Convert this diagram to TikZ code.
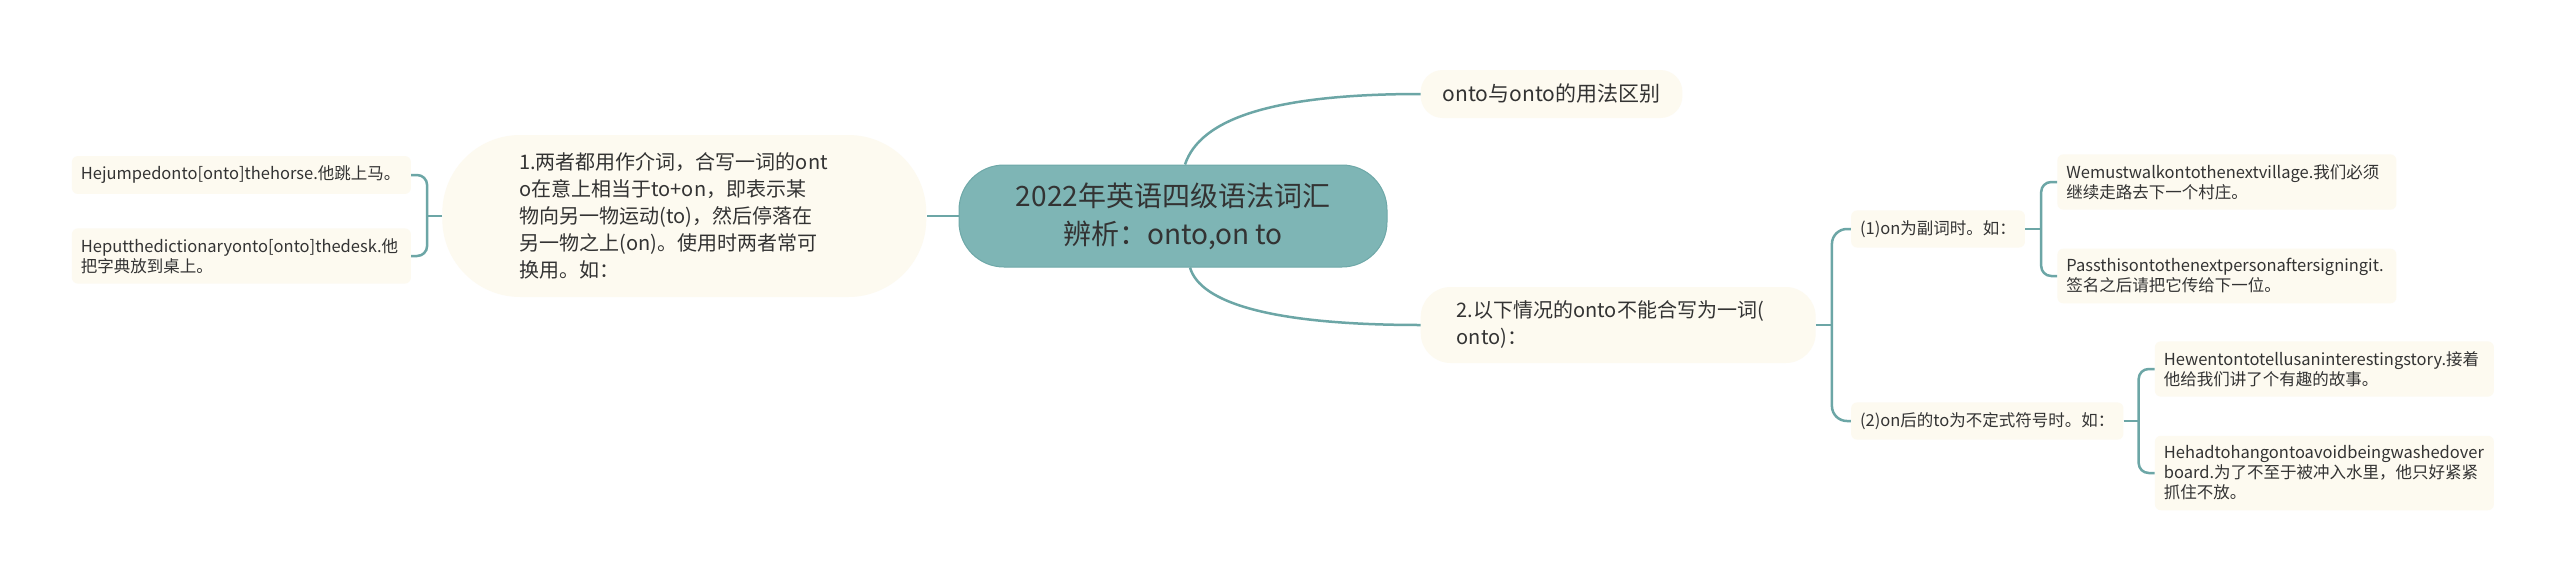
\documentclass[tikz,border=0pt]{standalone}
\usepackage{fontspec}
\setmainfont{Noto Sans CJK SC}
\usepackage{xcolor}
\usetikzlibrary{positioning}
\definecolor{hubteal}{RGB}{126,181,181}
\definecolor{hubline}{RGB}{110,168,168}
\definecolor{linkteal}{RGB}{108,166,166}
\definecolor{cream}{RGB}{253,250,240}
\definecolor{ink}{RGB}{51,51,51}

\begin{document}
\begin{tikzpicture}[x=1pt, y=-1pt,
        hub/.style={rectangle, draw=hubline, line width=1pt, fill=hubteal, rounded corners=45pt, minimum width=428pt, minimum height=102pt, align=center, text=ink, font=\fontsize{28}{38}\selectfont},
        topic/.style={rectangle, fill=cream, text=ink, align=left, font=\fontsize{20}{27}\selectfont},
        sub/.style={rectangle, fill=cream, rounded corners=6pt, text=ink, align=left, inner xsep=9pt, inner ysep=10pt, font=\fontsize{16.5}{20}\selectfont},
        leaf/.style={sub, text width=321pt},
        link/.style={draw=linkteal, line width=2.5pt}]

        \path[fill=white] (0,0) rectangle (2560,581);
        \useasboundingbox (0,0) rectangle (2560,581);

        \node[hub] (root) at (1173,216) {2022年英语四级语法词汇\\辨析：onto,on to};
        \node[topic, rounded corners=78pt, text width=330pt, inner xsep=77pt, minimum height=162pt, left=32pt of root] (b1) {1.两者都用作介词，合写一词的ont\\o在意上相当于to+on，即表示某\\物向另一物运动(to)，然后停落在\\另一物之上(on)。使用时两者常可\\换用。如：};
        \node[topic, rounded corners=22pt, font=\fontsize{21}{27}\selectfont, inner xsep=22pt, minimum height=48pt, right=33pt of root.east, yshift=122pt] (t1) {onto与onto的用法区别};
        \node[topic, rounded corners=30pt, text width=323pt, inner xsep=36pt, minimum height=76pt, right=33pt of root.east, yshift=-109pt] (b2) {2.以下情况的onto不能合写为一词(\\onto)：};

        \node[sub, right=35pt of b2.east, yshift=96pt] (s1) {(1)on为副词时。如：};
        \node[sub, right=35pt of b2.east, yshift=-96pt] (s2) {(2)on后的to为不定式符号时。如：};

        \node[leaf, left=31pt of b1.west, yshift=41pt] (l1) {Hejumpedonto[onto]thehorse.他跳上马。};
        \node[leaf, left=31pt of b1.west, yshift=-40pt] (l2) {Heputthedictionaryonto[onto]thedesk.他\\把字典放到桌上。};
        \node[leaf, right=32pt of s1.east, yshift=47pt] (w1) {Wemustwalkontothenextvillage.我们必须\\继续走路去下一个村庄。};
        \node[leaf, right=32pt of s1.east, yshift=-47pt] (w2) {Passthisontothenextpersonaftersigningit.\\签名之后请把它传给下一位。};
        \node[leaf, right=31pt of s2.east, yshift=52pt] (h1) {Hewentontotellusaninterestingstory.接着\\他给我们讲了个有趣的故事。};
        \node[leaf, right=31pt of s2.east, yshift=-52pt] (h2) {Hehadtohangontoavoidbeingwashedover\\board.为了不至于被冲入水里，他只好紧紧\\抓住不放。};

        \draw[link] (root.west) -- (b1.east);
        \draw[link] ([xshift=12pt]root.north) .. controls +(15,-45) and +(-150,0) .. (t1.west);
        \draw[link] ([xshift=17pt]root.south) .. controls +(10,35) and +(-150,0) .. (b2.west);

        \coordinate (j1) at ([xshift=-15pt]b1.west);
        \draw[link] (b1.west) -- (j1);
        \draw[link, rounded corners=10pt] (l1.east) -| (j1) |- (l2.east);

        \coordinate (j2) at ([xshift=16pt]b2.east);
        \draw[link] (b2.east) -- (j2);
        \draw[link, rounded corners=15pt] (s1.west) -| (j2) |- (s2.west);

        \coordinate (j3) at ([xshift=16pt]s1.east);
        \draw[link] (s1.east) -- (j3);
        \draw[link, rounded corners=10pt] (w1.west) -| (j3) |- (w2.west);

        \coordinate (j4) at ([xshift=15pt]s2.east);
        \draw[link] (s2.east) -- (j4);
        \draw[link, rounded corners=10pt] (h1.west) -| (j4) |- (h2.west); % examples of (2)
    \end{tikzpicture}
\end{document}
